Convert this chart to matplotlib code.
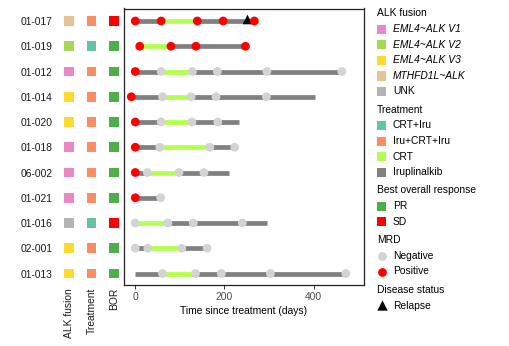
import matplotlib
matplotlib.use("Agg")
import matplotlib.pyplot as plt
from matplotlib.patches import Rectangle

plt.rcParams["font.family"] = ["Liberation Sans", "DejaVu Sans"]
FS = 7.4

# one row per patient, top to bottom
patients = ["01-017", "01-019", "01-012", "01-014", "01-020", "01-018",
            "06-002", "01-021", "01-016", "02-001", "01-013"]
alk_fusion = ["MTHFD1L~ALK", "EML4~ALK V2", "EML4~ALK V1", "EML4~ALK V3",
              "EML4~ALK V3", "EML4~ALK V1", "EML4~ALK V1", "EML4~ALK V1",
              "UNK", "EML4~ALK V3", "EML4~ALK V3"]
treatment = ["Iru+CRT+Iru", "CRT+Iru", "Iru+CRT+Iru", "Iru+CRT+Iru",
             "Iru+CRT+Iru", "Iru+CRT+Iru", "Iru+CRT+Iru", "Iru+CRT+Iru",
             "CRT+Iru", "Iru+CRT+Iru", "Iru+CRT+Iru"]
bor = ["SD", "PR", "PR", "PR", "PR", "PR", "PR", "PR", "SD", "PR", "PR"]

# timeline in days since treatment
start_day = [0, 5, 0, -9, 0, 0, 0, 0, 0, 0, 0]
crt_start = [58, 5, 58, 61, 58, 55, 27, None, 0, 28, 61]
crt_end = [139, 80, 128, 125, 127, 167, 98, None, 73, 104, 135]
end_day = [267, 247, 463, 404, 232, 223, 209, 60, 295, 161, 472]
mrd_day = [[0, 58, 139, 197, 267], [10, 80, 136, 247],
           [0, 58, 128, 184, 295, 463], [-9, 61, 125, 181, 294],
           [0, 58, 127, 185], [0, 55, 167, 223], [0, 27, 98, 154],
           [0, 57], [0, 73, 130, 240], [0, 28, 104, 161],
           [61, 135, 193, 303, 472]]
mrd_positive = [[1, 1, 1, 1, 1], [1, 1, 1, 1],
                [1, 0, 0, 0, 0, 0], [1, 0, 0, 0, 0],
                [1, 0, 0, 0], [1, 0, 0, 0], [1, 0, 0, 0],
                [1, 0], [0, 0, 0, 0], [0, 0, 0, 0],
                [0, 0, 0, 0, 0]]
relapse_day = [250, None, None, None, None, None, None, None, None, None, None]

alk_colors = {"EML4~ALK V1": "#E78AC3", "EML4~ALK V2": "#A6D854",
              "EML4~ALK V3": "#FFD92F", "MTHFD1L~ALK": "#E5C494",
              "UNK": "#B3B3B3"}
trt_colors = {"CRT+Iru": "#66C2A5", "Iru+CRT+Iru": "#FC8D62",
              "CRT": "#B3FF4D", "Iruplinalkib": "#808080"}
bor_colors = {"PR": "#4DAF4A", "SD": "#FF0000"}
mrd_colors = {0: "#D3D3D3", 1: "#FF0000"}

W, H = 510, 346
fig = plt.figure(figsize=(W / 100, H / 100), dpi=100)


def box(x0, y0, x1, y1):
    # pixel box (top-left origin) -> figure fraction rect
    return [x0 / W, 1 - y1 / H, (x1 - x0) / W, (y1 - y0) / H]


rows = list(range(len(patients)))
ylim = (len(patients) - 1 + 0.455, -0.495)

# --- swimmer lanes ---
ax = fig.add_axes(box(124, 8.5, 364, 285))
for i in rows:
    segs = []
    if crt_start[i] is None:
        segs.append((start_day[i], end_day[i], "Iruplinalkib"))
    else:
        if crt_start[i] > start_day[i]:
            segs.append((start_day[i], crt_start[i], "Iruplinalkib"))
        segs.append((crt_start[i], crt_end[i], "CRT"))
        segs.append((crt_end[i], end_day[i], "Iruplinalkib"))
    for a, b, kind in segs:
        ax.plot([a, b], [i, i], color=trt_colors[kind], lw=3.4,
                solid_capstyle="butt", zorder=2)
    if relapse_day[i] is not None:
        ax.scatter([relapse_day[i]], [i - 0.06], marker="^", s=48,
                   color="black", zorder=3, linewidths=0)
    ax.scatter(mrd_day[i], [i] * len(mrd_day[i]),
               c=[mrd_colors[p] for p in mrd_positive[i]],
               s=40, linewidths=0, zorder=4)

ax.set_xlim(-25.3, 512.8)
ax.set_ylim(*ylim)
ax.set_yticks([])
ax.set_xticks([0, 200, 400])
ax.tick_params(axis="x", length=3, width=0.7, colors="#333333",
               labelsize=FS, labelcolor="#4D4D4D", pad=2)
ax.set_xlabel("Time since treatment (days)", fontsize=FS, labelpad=3)
for sp in ax.spines.values():
    sp.set_linewidth(0.9)
    sp.set_color("#222222")

# --- annotation columns ---
side = fig.add_axes(box(58, 8.5, 122, 285))
columns = [alk_fusion, treatment, bor]
palettes = [alk_colors, trt_colors, bor_colors]
for j, (vals, pal) in enumerate(zip(columns, palettes)):
    side.scatter([j] * len(vals), rows, marker="s", s=48,
                 c=[pal[v] for v in vals], linewidths=0)
side.set_xlim(-0.49, 2.37)
side.set_ylim(*ylim)
side.set_yticks(rows)
side.set_yticklabels(patients, fontsize=FS, color="#1A1A1A")
side.set_xticks([0, 1, 2])
side.set_xticklabels(["ALK fusion", "Treatment", "BOR"], rotation=90,
                     fontsize=FS, color="#1A1A1A", va="top")
side.tick_params(length=0, pad=4)
side.tick_params(axis="x", pad=2)
for sp in side.spines.values():
    sp.set_visible(False)
side.patch.set_visible(False)

# --- legend ---
leg = fig.add_axes(box(370, 0, 510, 346))
leg.set_xlim(370, 510)
leg.set_ylim(346, 0)
leg.axis("off")

legend_groups = [
    ("ALK fusion", [(k, "sq", c, k != "UNK") for k, c in alk_colors.items()]),
    ("Treatment", [(k, "sq", c, False) for k, c in trt_colors.items()]),
    ("Best overall response", [(k, "sq", c, False) for k, c in bor_colors.items()]),
    ("MRD", [("Negative", "o", mrd_colors[0], False),
             ("Positive", "o", mrd_colors[1], False)]),
    ("Disease status", [("Relapse", "^", "black", False)]),
]
y = 13.3
for title, items in legend_groups:
    leg.text(376.7, y, title, fontsize=FS, va="center", ha="left")
    y += 15.8
    for label, kind, color, italic in items:
        if kind == "sq":
            leg.add_patch(Rectangle((377.5, y - 4.6), 9, 9.2, color=color, lw=0))
        elif kind == "o":
            leg.scatter([382], [y], s=40, color=color, linewidths=0)
        else:
            leg.scatter([382], [y - 0.5], marker="^", s=55, color=color,
                        linewidths=0)
        leg.text(393, y, label, fontsize=FS, va="center", ha="left",
                 style="italic" if italic else "normal")
        y += 15.6
    y += 2.6

fig.savefig("out.png", dpi=100)
